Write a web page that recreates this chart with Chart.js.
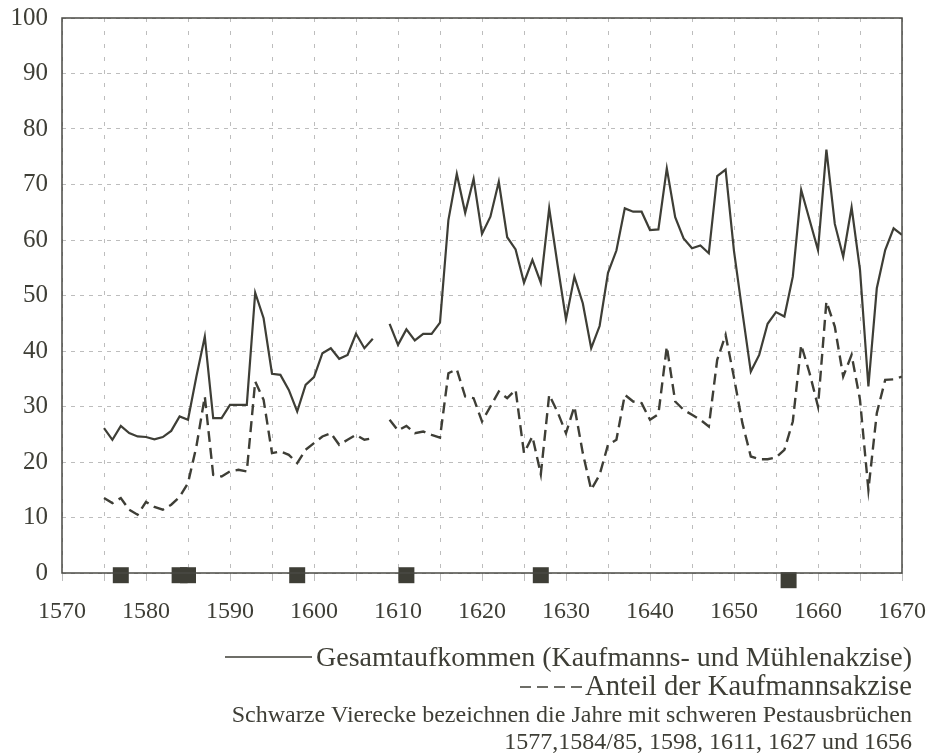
<!DOCTYPE html>
<html>
<head>
<meta charset="utf-8">
<script src="https://cdn.jsdelivr.net/npm/chart.js@4"></script>
<style>
  html, body { margin: 0; padding: 0; background: #fff; }
  #wrap { width: 933px; height: 753px; position: relative; }
</style>
</head>
<body>
<div id="wrap"><canvas id="akzise" width="933" height="753"></canvas></div>
<script>
// --- DATA ---
const years = [
  1575, 1576, 1577, 1578, 1579, 1580, 1581, 1582, 1583, 1584,
  1585, 1586, 1587, 1588, 1589, 1590, 1591, 1592, 1593, 1594,
  1595, 1596, 1597, 1598, 1599, 1600, 1601, 1602, 1603, 1604,
  1605, 1606, 1607, 1608, 1609, 1610, 1611, 1612, 1613, 1614,
  1615, 1616, 1617, 1618, 1619, 1620, 1621, 1622, 1623, 1624,
  1625, 1626, 1627, 1628, 1629, 1630, 1631, 1632, 1633, 1634,
  1635, 1636, 1637, 1638, 1639, 1640, 1641, 1642, 1643, 1644,
  1645, 1646, 1647, 1648, 1649, 1650, 1651, 1652, 1653, 1654,
  1655, 1656, 1657, 1658, 1659, 1660, 1661, 1662, 1663, 1664,
  1665, 1666, 1667, 1668, 1669, 1670
];

// Gesamtaufkommen (solid line)
const totalRevenue = [
  26.1, 24.0, 26.5, 25.2, 24.6, 24.5, 24.1, 24.5, 25.6, 28.2,
  27.6, 35.4, 42.6, 27.9, 27.9, 30.3, 30.3, 30.3, 50.5, 45.9,
  35.9, 35.7, 33.0, 29.1, 33.9, 35.3, 39.6, 40.5, 38.6, 39.3,
  43.1, 40.5, 42.2, null, 44.9, 41.1, 43.9, 41.9, 43.1, 43.1,
  45.1, 63.6, 71.9, 64.9, 71.0, 61.1, 64.2, 70.5, 60.5, 58.3,
  52.3, 56.4, 52.3, 65.7, 55.5, 45.7, 53.4, 48.6, 40.5, 44.5,
  54.1, 58.1, 65.7, 65.1, 65.1, 61.8, 61.9, 72.9, 64.1, 60.3,
  58.5, 59.0, 57.6, 71.5, 72.7, 58.0, 47.0, 36.3, 39.3, 44.9,
  47.0, 46.2, 53.4, 69.0, 63.6, 58.2, 76.3, 62.9, 57.0, 65.9,
  54.6, 33.6, 51.3, 58.2, 62.1, 60.9
];

// Anteil der Kaufmannsakzise (dashed line)
const merchantShare = [
  13.5, 12.6, 13.5, 11.4, 10.5, 12.8, 11.9, 11.4, 12.3, 13.7,
  16.2, 22.8, 31.8, 17.7, 17.4, 18.3, 18.6, 18.3, 34.5, 31.2,
  21.6, 21.9, 21.3, 19.8, 22.2, 23.4, 24.6, 25.2, 23.1, 24.0,
  24.9, 24.0, 24.3, null, 27.6, 25.7, 26.5, 25.2, 25.5, 24.9,
  24.4, 36.0, 36.7, 31.8, 31.5, 27.3, 30.0, 32.7, 31.5, 33.0,
  21.6, 24.6, 17.8, 32.1, 29.0, 25.2, 30.0, 21.6, 15.0, 17.7,
  23.1, 24.0, 32.1, 30.9, 30.6, 27.6, 28.6, 40.8, 30.9, 29.4,
  28.5, 27.6, 26.4, 38.4, 42.9, 35.2, 27.0, 21.0, 20.5, 20.5,
  20.8, 22.2, 27.3, 41.1, 36.0, 30.0, 48.9, 44.4, 35.4, 39.3,
  31.2, 15.0, 28.8, 34.8, 34.9, 35.4
];

// plague years (black squares on the axis); the last one sits a bit lower
const plagueYears = [1577, 1584, 1585, 1598, 1611, 1627, 1656.5];
const plagueLevel = [-0.4, -0.4, -0.4, -0.4, -0.4, -0.4, -1.3];

const legendLines = [
  'Gesamtaufkommen (Kaufmanns- und Mühlenakzise)',
  'Anteil der Kaufmannsakzise',
  'Schwarze Vierecke bezeichnen die Jahre mit schweren Pestausbrüchen',
  '1577,1584/85, 1598, 1611, 1627 und 1656'
];

const INK = '#3e3e36';
const FONT = '"Liberation Serif", "DejaVu Serif", serif';

const toPoints = (xs, ys) => xs.map((x, i) => ({ x: x, y: ys[i] }));

// frame around the plot + the text legend under it
const framePlugin = {
  id: 'frame',
  afterDraw(chart) {
    const { ctx, chartArea: a } = chart;
    ctx.save();
    ctx.strokeStyle = '#4a4a44';
    ctx.lineWidth = 1.5;
    ctx.strokeRect(a.left, a.top, a.right - a.left, a.bottom - a.top);

    ctx.fillStyle = INK;
    ctx.textAlign = 'right';
    ctx.textBaseline = 'alphabetic';
    const right = 912;

    // line 1 : solid sample
    ctx.font = '28px ' + FONT;
    ctx.fillText(legendLines[0], right, 666, 596);
    ctx.strokeStyle = INK;
    ctx.lineWidth = 1.5;
    ctx.beginPath();
    ctx.moveTo(225, 657);
    ctx.lineTo(312, 657);
    ctx.stroke();

    // line 2 : dashed sample
    ctx.font = '29px ' + FONT;
    ctx.fillText(legendLines[1], right, 695, 327);
    ctx.setLineDash([11, 6]);
    ctx.beginPath();
    ctx.moveTo(520, 687);
    ctx.lineTo(584, 687);
    ctx.stroke();
    ctx.setLineDash([]);

    ctx.font = '24px ' + FONT;
    ctx.fillText(legendLines[2], right, 722, 729);
    ctx.fillText(legendLines[3], right, 749, 460);
    ctx.restore();
  }
};

const ctx = document.getElementById('akzise').getContext('2d');
const chart = new Chart(ctx, {
  type: 'line',
  data: {
    datasets: [
      {
        label: 'Gesamtaufkommen',
        data: toPoints(years, totalRevenue),
        borderColor: INK,
        borderWidth: 2.2,
        pointRadius: 0,
        tension: 0,
        spanGaps: false
      },
      {
        label: 'Kaufmannsakzise',
        data: toPoints(years, merchantShare),
        borderColor: INK,
        borderWidth: 2.4,
        borderDash: [11, 6],
        pointRadius: 0,
        tension: 0,
        spanGaps: false
      },
      {
        label: 'Pest',
        type: 'scatter',
        data: toPoints(plagueYears, plagueLevel),
        pointStyle: 'rect',
        pointRadius: 11.3,
        backgroundColor: INK,
        borderColor: INK,
        borderWidth: 0,
        clip: false
      }
    ]
  },
  options: {
    responsive: false,
    animation: false,
    events: [],
    layout: { padding: { top: 18, right: 31, left: 0, bottom: 130 } },
    plugins: {
      legend: { display: false },
      tooltip: { enabled: false }
    },
    scales: {
      x: {
        type: 'linear',
        min: 1570,
        max: 1670,
        // fixed size, and no extra room for the outer labels
        afterFit: s => { s.height = 50; s.paddingLeft = 0; s.paddingRight = 0; },
        ticks: {
          stepSize: 5,
          autoSkip: false,
          maxRotation: 0,
          padding: 16,
          color: INK,
          font: { family: FONT, size: 24 },
          callback: v => (v % 10 === 0 ? String(v) : '')
        },
        grid: {
          color: '#bdbdbd',
          lineWidth: 1,
          drawTicks: true,
          tickLength: 8,
          tickColor: '#bdbdbd'
        },
        border: { display: false, dash: [4, 9] }
      },
      y: {
        min: 0,
        max: 100,
        afterFit: s => { s.width = 62; s.paddingTop = 0; s.paddingBottom = 0; },
        ticks: {
          stepSize: 10,
          padding: 14,
          color: INK,
          font: { family: FONT, size: 25 }
        },
        grid: {
          color: '#bdbdbd',
          lineWidth: 1,
          drawTicks: false
        },
        border: { display: false, dash: [4, 5] }
      }
    }
  },
  plugins: [framePlugin]
});
</script>
</body>
</html>
